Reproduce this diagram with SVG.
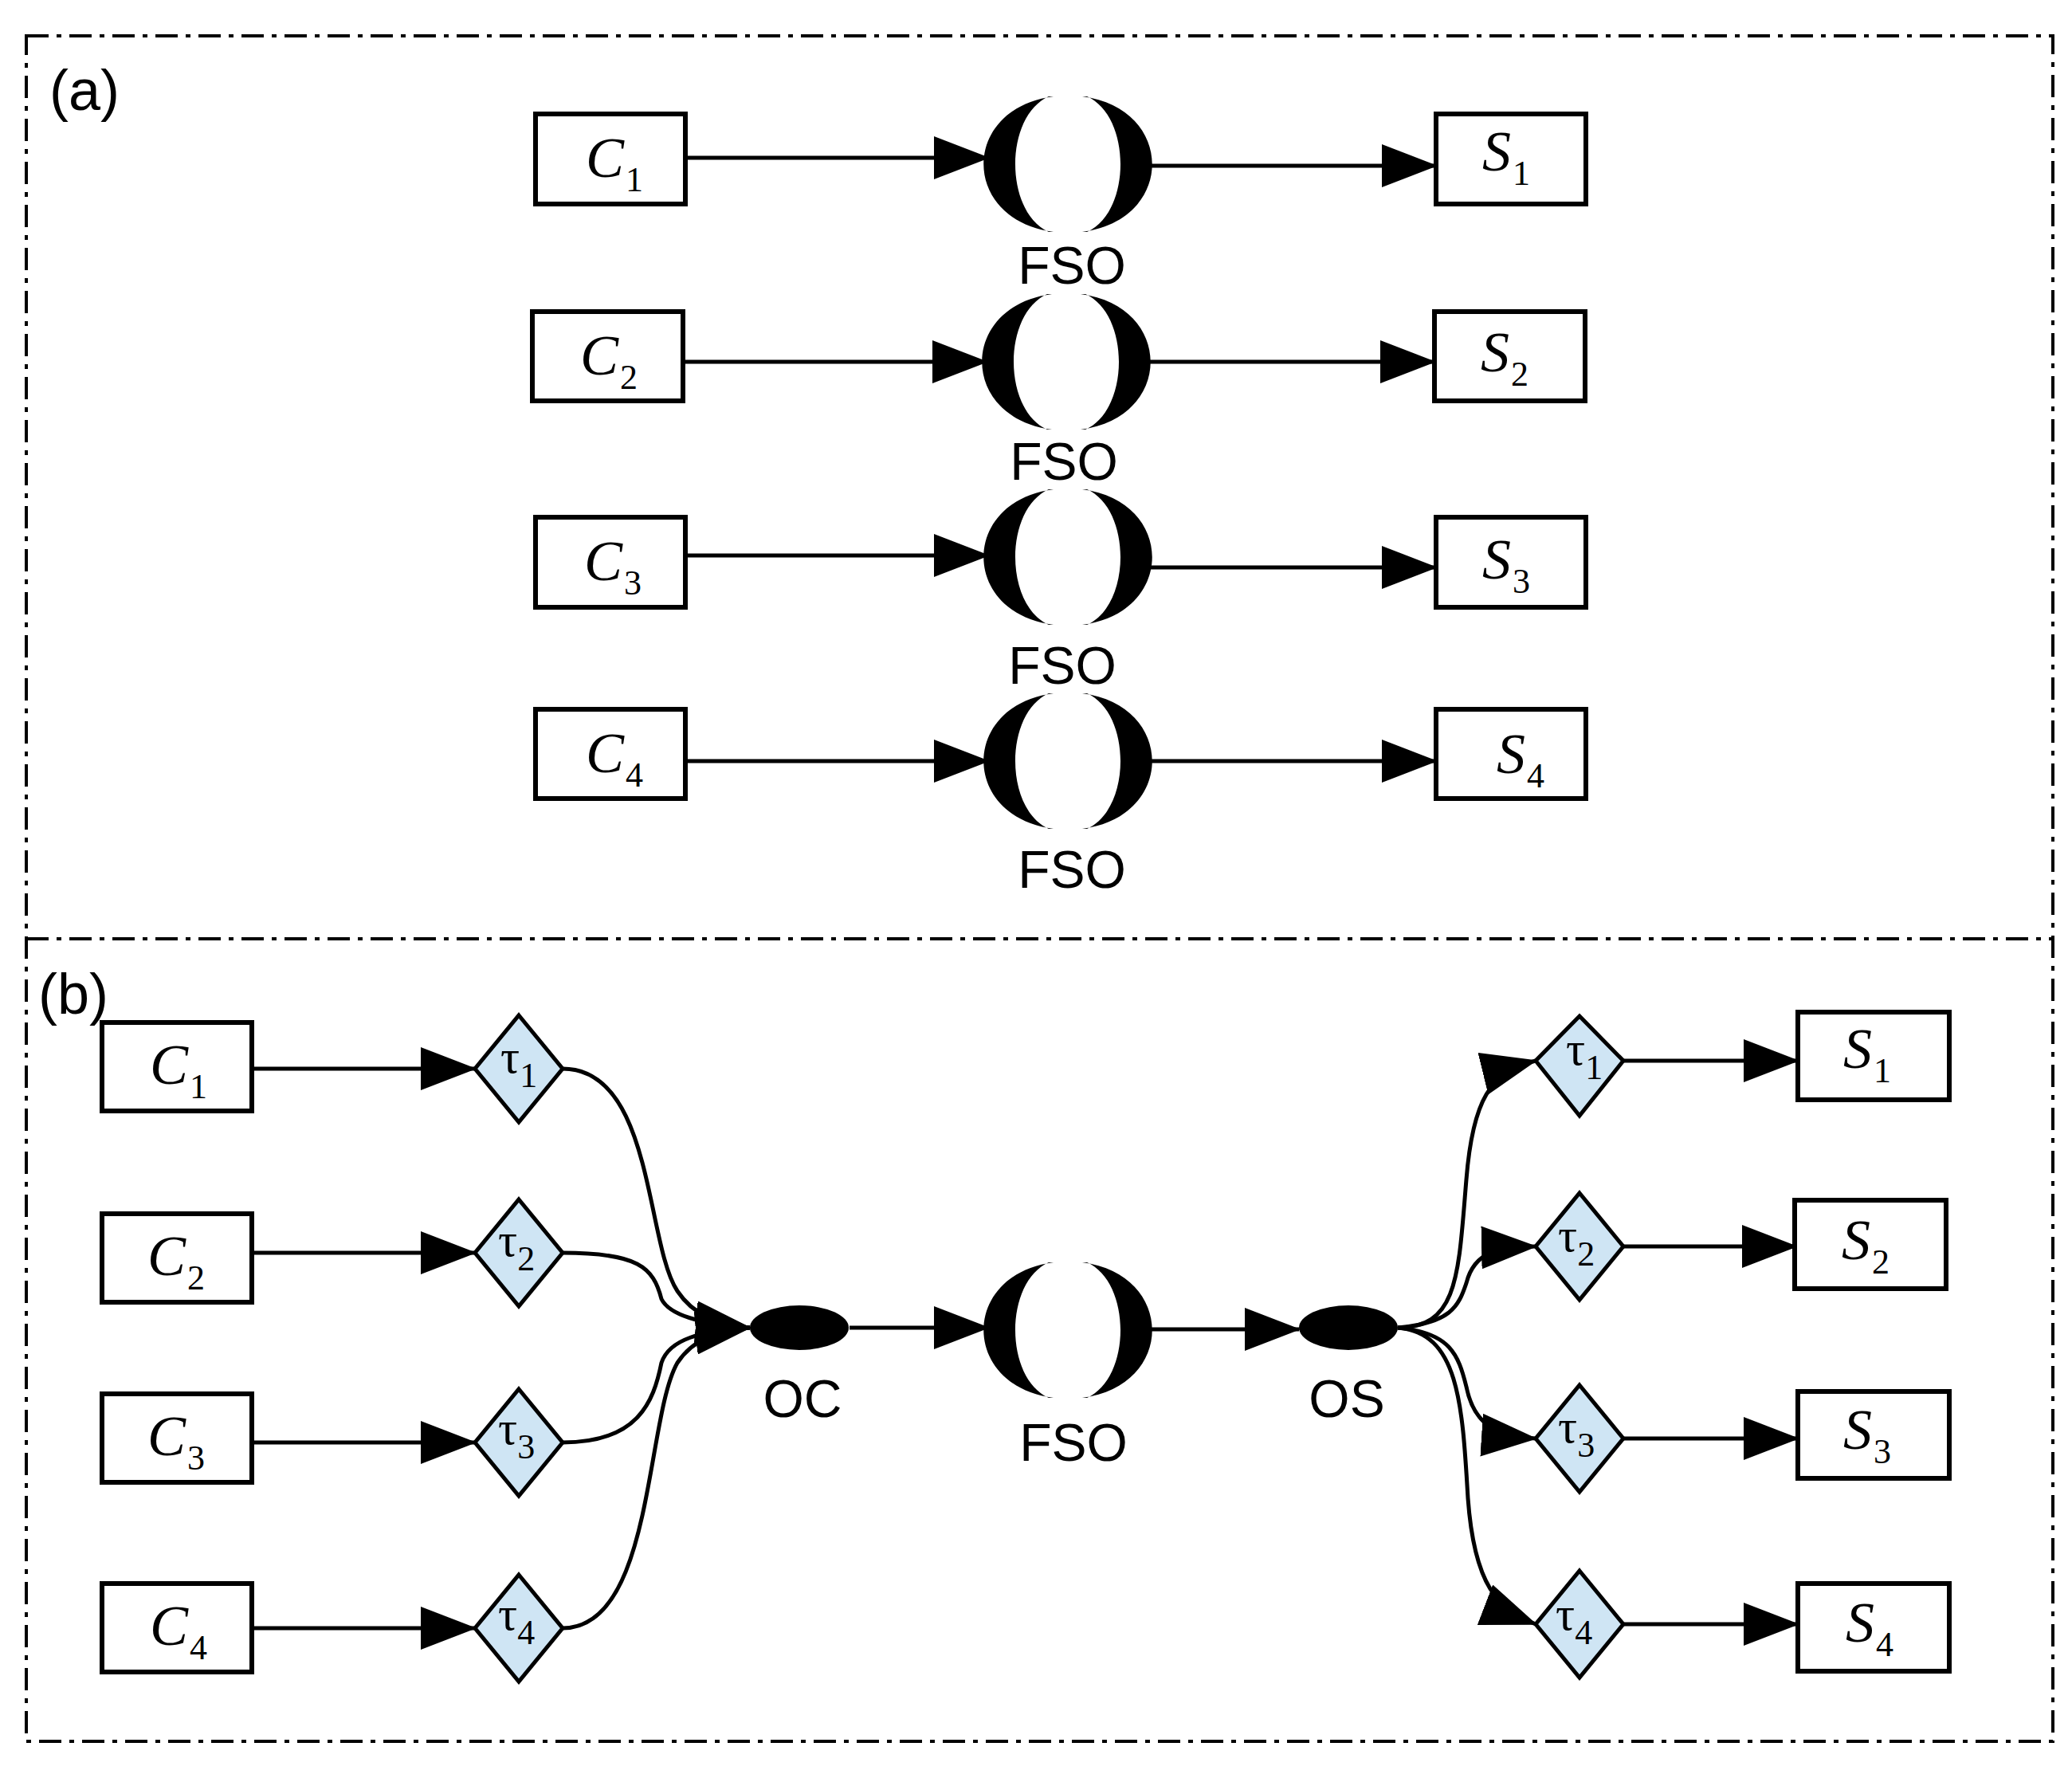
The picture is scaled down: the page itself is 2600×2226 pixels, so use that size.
<svg xmlns="http://www.w3.org/2000/svg" xmlns:xlink="http://www.w3.org/1999/xlink" width="2600" height="2226" viewBox="0 0 2600 2226">
<style>
.box{fill:#fff;stroke:#000;stroke-width:6}
.dia{fill:#cfe5f4;stroke:#000;stroke-width:5}
.ln{fill:none;stroke:#000;stroke-width:5}
.dash{fill:none;stroke:#000;stroke-width:4;stroke-dasharray:28 10 6 10}
.m{font-family:"Liberation Serif",serif;font-style:italic;font-size:72px}
.sub{font-family:"Liberation Serif",serif;font-size:44px;font-style:normal}
.tau{font-family:"Liberation Serif",serif;font-size:60px}
.lbl{font-family:"Liberation Sans",Arial,sans-serif;font-size:66px}
.pl{font-family:"Liberation Sans",Arial,sans-serif;font-size:72px}
</style>
<defs>
<marker id="ar" markerUnits="userSpaceOnUse" markerWidth="70" markerHeight="54" refX="68" refY="27" orient="auto"><path d="M0,0 L70,27 L0,54 Z" fill="#000"/></marker>
<path id="lens" d="M-18,-85 C-135,-70 -135,70 -18,85 L-24,85 C-80,60 -80,-60 -24,-85 Z M18,-85 C135,-70 135,70 18,85 L24,85 C80,60 80,-60 24,-85 Z" fill="#000"/>
</defs>
<rect width="2600" height="2226" fill="#fff"/>
<rect class="dash" x="33" y="45" width="2543" height="2140"/>
<line class="dash" x1="33" y1="1178" x2="2576" y2="1178"/>
<text class="pl" x="62" y="138">(a)</text>
<text class="pl" x="48" y="1272">(b)</text>
<g id="connectors">
<path class="ln" marker-end="url(#ar)" d="M860,198 L1240,198"/>
<path class="ln" marker-end="url(#ar)" d="M1440,208 L1802,208"/>
<path class="ln" marker-end="url(#ar)" d="M857,454 L1238,454"/>
<path class="ln" marker-end="url(#ar)" d="M1438,454 L1800,454"/>
<path class="ln" marker-end="url(#ar)" d="M860,697 L1240,697"/>
<path class="ln" marker-end="url(#ar)" d="M1440,712 L1802,712"/>
<path class="ln" marker-end="url(#ar)" d="M860,955 L1240,955"/>
<path class="ln" marker-end="url(#ar)" d="M1440,955 L1802,955"/>
<path class="ln" marker-end="url(#ar)" d="M316,1341 L596,1341"/>
<path class="ln" marker-end="url(#ar)" d="M316,1572 L596,1572"/>
<path class="ln" marker-end="url(#ar)" d="M316,1810 L596,1810"/>
<path class="ln" marker-end="url(#ar)" d="M316,2043 L596,2043"/>
<path class="ln" marker-end="url(#ar)" d="M706,1341 C820,1341 810,1560 850,1620 C870,1650 900,1662 941,1666"/>
<path class="ln" marker-end="url(#ar)" d="M706,1572 C800,1572 820,1590 830,1630 C840,1650 880,1662 941,1666"/>
<path class="ln" marker-end="url(#ar)" d="M706,1810 C800,1810 820,1760 830,1710 C840,1680 880,1670 941,1666"/>
<path class="ln" marker-end="url(#ar)" d="M706,2043 C820,2043 810,1780 850,1710 C870,1680 900,1670 941,1666"/>
<path class="ln" marker-end="url(#ar)" d="M1066,1666 L1240,1666"/>
<path class="ln" marker-end="url(#ar)" d="M1440,1668 L1630,1668"/>
<path class="ln" marker-end="url(#ar)" d="M1754,1666 C1830,1666 1830,1600 1840,1480 C1848,1380 1870,1345 1927,1331"/>
<path class="ln" marker-end="url(#ar)" d="M1754,1666 C1820,1660 1830,1640 1840,1610 C1850,1570 1880,1565 1927,1564"/>
<path class="ln" marker-end="url(#ar)" d="M1754,1666 C1820,1672 1830,1700 1840,1740 C1850,1790 1880,1802 1927,1805"/>
<path class="ln" marker-end="url(#ar)" d="M1754,1666 C1830,1672 1835,1760 1842,1880 C1850,1990 1880,2020 1927,2038"/>
<path class="ln" marker-end="url(#ar)" d="M2037,1331 L2256,1331"/>
<path class="ln" marker-end="url(#ar)" d="M2037,1564 L2254,1564"/>
<path class="ln" marker-end="url(#ar)" d="M2037,1805 L2256,1805"/>
<path class="ln" marker-end="url(#ar)" d="M2037,2038 L2256,2038"/>
</g>
<g id="a-C1"><rect class="box" x="672" y="143" width="188" height="113"/><text class="m" x="735" y="222">C<tspan class="sub" dx="2" dy="18">1</tspan></text></g>
<g id="a-C2"><rect class="box" x="668" y="391" width="189" height="112"/><text class="m" x="728" y="470">C<tspan class="sub" dx="2" dy="18">2</tspan></text></g>
<g id="a-C3"><rect class="box" x="672" y="649" width="188" height="113"/><text class="m" x="733" y="728">C<tspan class="sub" dx="2" dy="18">3</tspan></text></g>
<g id="a-C4"><rect class="box" x="672" y="890" width="188" height="112"/><text class="m" x="735" y="969">C<tspan class="sub" dx="2" dy="18">4</tspan></text></g>
<g id="a-S1"><rect class="box" x="1802" y="143" width="188" height="113"/><text class="m" x="1860" y="214">S<tspan class="sub" dx="2" dy="18">1</tspan></text></g>
<g id="a-S2"><rect class="box" x="1800" y="391" width="189" height="112"/><text class="m" x="1858" y="466">S<tspan class="sub" dx="2" dy="18">2</tspan></text></g>
<g id="a-S3"><rect class="box" x="1802" y="649" width="188" height="113"/><text class="m" x="1860" y="726">S<tspan class="sub" dx="2" dy="18">3</tspan></text></g>
<g id="a-S4"><rect class="box" x="1802" y="890" width="188" height="112"/><text class="m" x="1878" y="970">S<tspan class="sub" dx="2" dy="18">4</tspan></text></g>
<g id="a-FSO1"><use xlink:href="#lens" x="1340" y="206"/><text class="lbl" x="1345" y="356" text-anchor="middle">FSO</text></g>
<g id="a-FSO2"><use xlink:href="#lens" x="1338" y="454"/><text class="lbl" x="1335" y="602" text-anchor="middle">FSO</text></g>
<g id="a-FSO3"><use xlink:href="#lens" x="1340" y="699"/><text class="lbl" x="1333" y="858" text-anchor="middle">FSO</text></g>
<g id="a-FSO4"><use xlink:href="#lens" x="1340" y="955"/><text class="lbl" x="1345" y="1114" text-anchor="middle">FSO</text></g>
<g id="b-C1"><rect class="box" x="128" y="1283" width="188" height="111"/><text class="m" x="188" y="1360">C<tspan class="sub" dx="2" dy="18">1</tspan></text></g>
<g id="b-C2"><rect class="box" x="128" y="1523" width="188" height="111"/><text class="m" x="185" y="1600">C<tspan class="sub" dx="2" dy="18">2</tspan></text></g>
<g id="b-C3"><rect class="box" x="128" y="1749" width="188" height="111"/><text class="m" x="185" y="1826">C<tspan class="sub" dx="2" dy="18">3</tspan></text></g>
<g id="b-C4"><rect class="box" x="128" y="1987" width="188" height="111"/><text class="m" x="188" y="2064">C<tspan class="sub" dx="2" dy="18">4</tspan></text></g>
<g id="b-t1"><path class="dia" d="M651,1274 L706,1341 L651,1408 L596,1341 Z"/><text class="tau" x="628" y="1346">τ<tspan class="sub" dy="18">1</tspan></text></g>
<g id="b-t2"><path class="dia" d="M651,1505 L706,1572 L651,1639 L596,1572 Z"/><text class="tau" x="625" y="1576">τ<tspan class="sub" dy="18">2</tspan></text></g>
<g id="b-t3"><path class="dia" d="M651,1743 L706,1810 L651,1877 L596,1810 Z"/><text class="tau" x="625" y="1812">τ<tspan class="sub" dy="18">3</tspan></text></g>
<g id="b-t4"><path class="dia" d="M651,1976 L706,2043 L651,2110 L596,2043 Z"/><text class="tau" x="625" y="2045">τ<tspan class="sub" dy="18">4</tspan></text></g>
<g id="OC"><ellipse cx="1003" cy="1666" rx="62" ry="28" fill="#000"/><text class="lbl" x="1007" y="1778" text-anchor="middle">OC</text></g>
<g id="b-FSO"><use xlink:href="#lens" x="1340" y="1669"/><text class="lbl" x="1347" y="1833" text-anchor="middle">FSO</text></g>
<g id="OS"><ellipse cx="1692" cy="1666" rx="62" ry="28" fill="#000"/><text class="lbl" x="1690" y="1778" text-anchor="middle">OS</text></g>
<g id="b-r1"><path class="dia" d="M1982,1275 L2037,1331 L1982,1400 L1927,1331 Z"/><text class="tau" x="1965" y="1336">τ<tspan class="sub" dy="18">1</tspan></text></g>
<g id="b-r2"><path class="dia" d="M1982,1497 L2037,1564 L1982,1631 L1927,1564 Z"/><text class="tau" x="1955" y="1570">τ<tspan class="sub" dy="18">2</tspan></text></g>
<g id="b-r3"><path class="dia" d="M1982,1738 L2037,1805 L1982,1872 L1927,1805 Z"/><text class="tau" x="1955" y="1810">τ<tspan class="sub" dy="18">3</tspan></text></g>
<g id="b-r4"><path class="dia" d="M1982,1971 L2037,2038 L1982,2105 L1927,2038 Z"/><text class="tau" x="1952" y="2045">τ<tspan class="sub" dy="18">4</tspan></text></g>
<g id="b-S1"><rect class="box" x="2256" y="1270" width="190" height="110"/><text class="m" x="2313" y="1340">S<tspan class="sub" dx="2" dy="18">1</tspan></text></g>
<g id="b-S2"><rect class="box" x="2252" y="1506" width="190" height="111"/><text class="m" x="2311" y="1580">S<tspan class="sub" dx="2" dy="18">2</tspan></text></g>
<g id="b-S3"><rect class="box" x="2256" y="1746" width="190" height="109"/><text class="m" x="2313" y="1818">S<tspan class="sub" dx="2" dy="18">3</tspan></text></g>
<g id="b-S4"><rect class="box" x="2256" y="1987" width="190" height="110"/><text class="m" x="2316" y="2060">S<tspan class="sub" dx="2" dy="18">4</tspan></text></g>
</svg>
